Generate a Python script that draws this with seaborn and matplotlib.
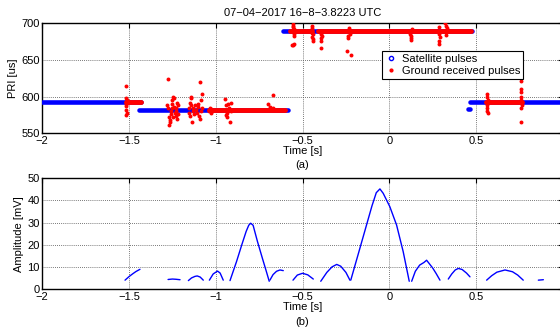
import numpy as np
import pandas as pd
import matplotlib
matplotlib.use("Agg")
import matplotlib.pyplot as plt
from matplotlib.lines import Line2D
import seaborn as sns

# ---------------- data ----------------
title_text = "07\u221204\u22122017 16\u22128\u22123.8223 UTC"

# Satellite pulses (PRI plateaus)
sat_start = [-2.00, -1.44, -0.61, 0.455, 0.468]
sat_end = [-1.43, -0.585, 0.475, 0.468, 1.02]
sat_pri = [593, 582, 689, 583, 592.5]

# Ground received pulses (main plateaus)
gr_start = [-1.52, -1.04, -0.57, -0.41, -0.225, 0.13, 0.30, 0.555]
gr_end = [-1.43, -0.60, -0.445, -0.24, 0.115, 0.28, 0.472, 0.765]
gr_pri = [593, 582, 689, 689, 689, 689, 689, 592.5]

# Ground received pulses (scattered outliers)
out_t = [-1.518, -1.515, -1.513, -1.520, -1.516, -1.519, -1.514, -1.517, -1.512, -1.510,
         -1.274, -1.270, -1.265, -1.268, -1.262, -1.258, -1.255, -1.250, -1.245, -1.240,
         -1.236, -1.232, -1.228, -1.225, -1.222, -1.219, -1.216, -1.260, -1.248, -1.242,
         -1.230, -1.276, -1.280, -1.252,
         -1.155, -1.152, -1.150, -1.147, -1.144, -1.140, -1.137, -1.133, -1.130, -1.126,
         -1.120, -1.116, -1.110, -1.105, -1.100, -1.096, -1.092, -1.088, -1.085, -1.081,
         -1.078, -1.090, -1.140,
         -1.040, -1.035, -1.030, -1.025, -1.020,
         -0.945, -0.942, -0.940, -0.937, -0.934, -0.930, -0.925, -0.918, -0.915, -0.912,
         -0.700, -0.690, -0.670, -0.668,
         -0.556, -0.553, -0.550, -0.548, -0.552, -0.560, -0.553, -0.547, -0.557,
         -0.446, -0.443, -0.441, -0.444, -0.442, -0.440, -0.447,
         -0.393, -0.390, -0.395, -0.391, -0.392,
         -0.240, -0.236, -0.232, -0.229, -0.246, -0.223,
         0.120, 0.124, 0.126, 0.123, 0.128,
         0.286, 0.289, 0.291, 0.288, 0.285,
         0.323, 0.327, 0.330, 0.326, 0.324,
         0.562, 0.565, 0.568, 0.563, 0.566, 0.564, 0.567,
         0.760, 0.758, 0.761, 0.757, 0.760, 0.762, 0.759, 0.761]
out_pri = [614, 598, 594, 590, 587, 582, 578, 575, 596, 592,
           624, 572, 568, 561, 566, 580, 585, 590, 600, 598,
           578, 574, 584, 592, 570, 588, 576, 576, 572, 586,
           580, 584, 588, 595,
           585, 578, 592, 574, 598, 588, 566, 580, 584, 576,
           588, 582, 578, 590, 586, 574, 620, 596, 580, 603,
           584, 570, 600,
           580, 585, 578, 583, 581,
           597, 575, 588, 578, 572, 590, 584, 566, 580, 592,
           590, 586, 602, 585,
           699, 695, 692, 685, 683, 671, 670, 672, 697,
           697, 693, 685, 682, 679, 676, 687,
           686, 683, 680, 676, 667,
           683, 680, 693, 685, 662, 657,
           686, 683, 680, 677, 692,
           695, 685, 681, 676, 672,
           700, 697, 693, 684, 688,
           604, 600, 596, 588, 584, 580, 578,
           622, 610, 606, 600, 596, 588, 584, 565]

# Amplitude lobes
lobe_t = [
    [-1.523, -1.50, -1.48, -1.46, -1.437],
    [-1.275, -1.25, -1.23, -1.206],
    [-1.158, -1.14, -1.12, -1.107, -1.09, -1.072],
    [-1.037, -1.015, -0.99, -0.975, -0.957],
    [-0.918, -0.88, -0.85, -0.825, -0.81, -0.799, -0.785, -0.76, -0.73, -0.71, -0.692],
    [-0.688, -0.67, -0.65, -0.63, -0.611],
    [-0.555, -0.53, -0.50, -0.47, -0.438],
    [-0.395, -0.36, -0.33, -0.303, -0.28, -0.25, -0.227],
    [-0.222, -0.18, -0.14, -0.10, -0.075, -0.054, -0.035, 0.003, 0.042, 0.08, 0.115],
    [0.129, 0.15, 0.175, 0.20, 0.215, 0.23, 0.25, 0.27, 0.292],
    [0.34, 0.36, 0.38, 0.398, 0.42, 0.445, 0.465],
    [0.561, 0.59, 0.62, 0.667, 0.71, 0.74, 0.772],
    [0.859, 0.888],
]
lobe_a = [
    [4.0, 5.6, 6.8, 7.9, 8.9],
    [4.3, 4.5, 4.4, 4.2],
    [3.8, 5.0, 5.7, 5.9, 5.4, 4.0],
    [4.0, 6.8, 8.1, 7.2, 4.0],
    [3.8, 12.5, 20.0, 26.0, 28.8, 29.7, 28.8, 21.5, 13.5, 8.3, 3.5],
    [4.0, 6.5, 8.0, 8.6, 8.3],
    [4.0, 6.3, 7.1, 6.4, 4.5],
    [3.5, 7.5, 10.0, 11.1, 10.3, 7.5, 4.0],
    [4.0, 15.5, 26.5, 37.5, 43.5, 45.2, 43.2, 37.2, 28.9, 16.9, 3.5],
    [3.5, 8.0, 10.8, 12.0, 13.0, 11.5, 9.5, 7.0, 4.0],
    [4.5, 6.8, 8.6, 9.3, 8.8, 7.2, 5.5],
    [4.0, 6.0, 7.6, 8.6, 7.8, 6.3, 4.0],
    [4.0, 4.2],
]

x_ticks = [-2, -1.5, -1, -0.5, 0, 0.5, 1]
pri_ticks = [550, 600, 650, 700]
amp_ticks = [0, 10, 20, 30, 40, 50]

# ---------------- style ----------------
sns.set_theme(style="white")
plt.rcParams['font.family'] = ['Liberation Sans', 'DejaVu Sans']
FS = 8
plt.rcParams.update({
    'font.size': FS,
    'axes.labelsize': FS,
    'axes.titlesize': FS,
    'legend.fontsize': FS,
    'axes.linewidth': 1.0,
    'axes.edgecolor': 'black',
    'xtick.direction': 'in', 'ytick.direction': 'in',
    'xtick.top': True, 'ytick.right': True,
    'xtick.major.size': 3.5, 'ytick.major.size': 3.5,
    'xtick.major.width': 0.8, 'ytick.major.width': 0.8,
    'xtick.labelsize': FS, 'ytick.labelsize': FS,
    'xtick.color': 'black', 'ytick.color': 'black',
    'text.color': 'black', 'axes.labelcolor': 'black',
    'axes.unicode_minus': True,
})

BLUE = '#0000ff'
RED = '#ff0000'

fig = plt.figure(figsize=(5.6, 3.33), dpi=100)
ax1 = fig.add_axes([0.0755, 0.5997, 0.9295, 0.3303])
ax2 = fig.add_axes([0.0755, 0.1321, 0.9295, 0.3325])

def seg_frame(starts, ends, vals):
    rows = []
    for i, (s, e, v) in enumerate(zip(starts, ends, vals)):
        rows.append((s, v, i))
        rows.append((e, v, i))
    return pd.DataFrame(rows, columns=['t', 'v', 'seg'])

sat_df = seg_frame(sat_start, sat_end, sat_pri)
gr_df = seg_frame(gr_start, gr_end, gr_pri)
out_df = pd.DataFrame({'t': out_t, 'v': out_pri})

sns.lineplot(data=sat_df, x='t', y='v', units='seg', estimator=None, sort=False,
             color=BLUE, lw=3.3, solid_capstyle='round', ax=ax1, zorder=3, legend=False)
sns.lineplot(data=gr_df, x='t', y='v', units='seg', estimator=None, sort=False,
             color=RED, lw=3.5, solid_capstyle='round', ax=ax1, zorder=4, legend=False)
sns.scatterplot(data=out_df, x='t', y='v', color=RED, s=8, linewidth=0,
                ax=ax1, zorder=5, legend=False)

amp_rows = []
for i, (ts, vs) in enumerate(zip(lobe_t, lobe_a)):
    for t, v in zip(ts, vs):
        amp_rows.append((t, v, i))
amp_df = pd.DataFrame(amp_rows, columns=['t', 'a', 'lobe'])
sns.lineplot(data=amp_df, x='t', y='a', units='lobe', estimator=None, sort=False,
             color=BLUE, lw=1.0, ax=ax2, zorder=3, legend=False)

grid_kw = dict(color='0.3', linestyle=(0, (1, 1.5)), linewidth=0.6)
for ax in (ax1, ax2):
    ax.set_xlim(-2, 1)
    ax.set_xticks(x_ticks)
    ax.set_xticklabels([f"{v:g}".replace('-', '\u2212') for v in x_ticks])
    ax.grid(True, **grid_kw)
    ax.set_axisbelow(True)
    ax.tick_params(pad=2)
    for sp in ax.spines.values():
        sp.set_visible(True)
        sp.set_color('black')

ax1.set_ylim(550, 700)
ax1.set_yticks(pri_ticks)
ax2.set_ylim(0, 50)
ax2.set_yticks(amp_ticks)

ax1.set_xlabel('Time [s]', labelpad=0, fontsize=FS)
ax2.set_xlabel('Time [s]', labelpad=0, fontsize=FS)
ax1.set_ylabel('PRI [us]', labelpad=2, fontsize=FS)
ax2.set_ylabel('Amplitude [mV]', labelpad=2, fontsize=FS)
ax1.set_title(title_text, fontsize=FS, pad=5)

fig.text(302.5 / 560, 1 - 165 / 333, '(a)', ha='center', va='center', fontsize=FS)
fig.text(302.5 / 560, 1 - 322 / 333, '(b)', ha='center', va='center', fontsize=FS)

handles = [
    Line2D([], [], color=BLUE, marker='o', linestyle='none', markersize=3,
           markerfacecolor='none', markeredgewidth=1.0),
    Line2D([], [], color=RED, marker='.', linestyle='none', markersize=4),
]
leg = ax1.legend(handles, ['Satellite pulses', 'Ground received pulses'],
                 loc='upper left', bbox_to_anchor=(0.652, 0.745),
                 frameon=True, fancybox=False, edgecolor='black', framealpha=1,
                 fontsize=FS, handlelength=1.2, handletextpad=0.4,
                 borderpad=0.25, labelspacing=0.15, borderaxespad=0)
leg.get_frame().set_linewidth(0.8)
leg.set_zorder(10)

fig.savefig('out.png', dpi=100)
